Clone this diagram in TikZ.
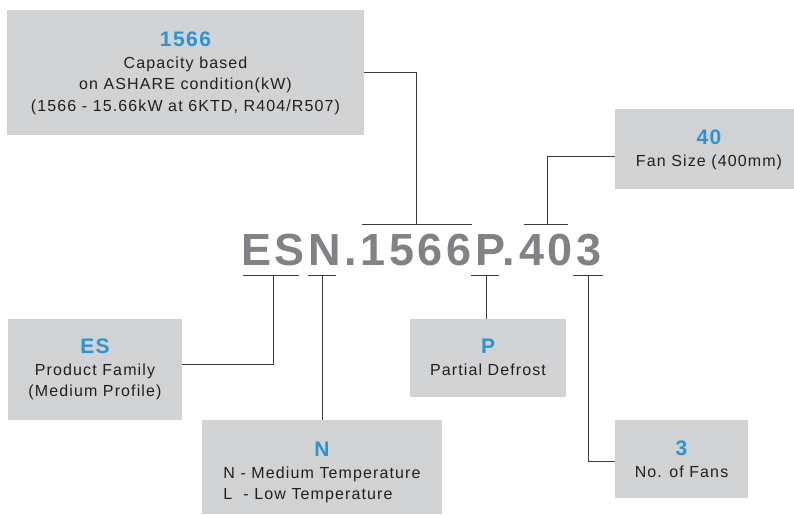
\documentclass[tikz,border=0pt]{standalone}
\usepackage{fontspec}
\setmainfont{Liberation Sans}
\newfontfamily\bodyfont[LetterSpace=7]{Liberation Sans}
\newfontfamily\codefont[LetterSpace=8]{Liberation Sans}
\definecolor{boxgray}{HTML}{D1D2D4}
\definecolor{tblue}{HTML}{2B94D1}
\definecolor{codegray}{HTML}{808285}
\definecolor{textdark}{HTML}{231F20}
\definecolor{linecol}{HTML}{3A3A3A}
\newcommand\ttl{\fontsize{21}{21.5}\selectfont\bfseries\color{tblue}}
\tikzset{
  infobox/.style={fill=boxgray, draw=none, inner sep=0pt, anchor=north west},
  txt/.style={inner sep=0pt, anchor=north, align=center, text=textdark,
    font=\bodyfont\fontsize{16}{21.5}\selectfont},
  conn/.style={draw=linecol, line width=1pt},
  codetext/.style={inner sep=0pt, anchor=base west, text=codegray,
    font=\codefont\fontsize{45}{45}\selectfont\bfseries}
}
\begin{document}
\begin{tikzpicture}[x=1pt,y=-1pt]
\path[use as bounding box] (0,0) rectangle (794,514);
% boxes
\node[infobox, minimum width=357pt, minimum height=125pt] (b1566) at (7,10) {};
\node[infobox, minimum width=179pt, minimum height=80pt] (b40) at (615,109) {};
\node[infobox, minimum width=174pt, minimum height=101pt] (bES) at (8,319) {};
\node[infobox, minimum width=240pt, minimum height=94pt] (bN) at (202,420) {};
\node[infobox, minimum width=156pt, minimum height=78pt] (bP) at (410,319) {};
\node[infobox, minimum width=133pt, minimum height=78pt] (b3) at (615,420) {};
% texts
\node[txt] (t1566) at (185.5,32) {{\ttl 1566}\\Capacity based\\on ASHARE condition(kW)\\(1566 - 15.66kW at 6KTD, R404/R507)};
\node[txt] (t40) at (709,130) {{\ttl 40}\\Fan Size (400mm)};
\node[txt] (tES) at (95,339) {{\ttl ES}\\Product Family\\(Medium Profile)};
\node[txt] (tP) at (488,339) {{\ttl P}\\Partial Defrost};
\node[txt] (t3) at (681.5,441) {{\ttl 3}\\No. of Fans};
\node[txt] (tN) at (322,442) {\ttl N};
\node[txt, align=left] (tN2) at (322,466.3) {N - Medium Temperature\\L\ \ - Low Temperature};
% code
\node[codetext] (code) at (241,265) {ESN.1566P.403};
% bracket coordinates
\coordinate (k1566L) at (362,224); \coordinate (k1566R) at (472,224); \coordinate (c1566) at (416,224);
\coordinate (k40L) at (524,224); \coordinate (k40R) at (568,224); \coordinate (c40) at (547,224);
\coordinate (kESL) at (243,275); \coordinate (kESR) at (299,275); \coordinate (cES) at (273,275);
\coordinate (kNL) at (308,275); \coordinate (kNR) at (336,275); \coordinate (cN) at (322,275);
\coordinate (kPL) at (471,275); \coordinate (kPR) at (499,275); \coordinate (cP) at (486,275);
\coordinate (k3L) at (573,275); \coordinate (k3R) at (603,275); \coordinate (c3) at (588,275);
% brackets
\draw[conn] (k1566L) -- (k1566R);
\draw[conn] (k40L) -- (k40R);
\draw[conn] (kESL) -- (kESR);
\draw[conn] (kNL) -- (kNR);
\draw[conn] (kPL) -- (kPR);
\draw[conn] (k3L) -- (k3R);
% connectors
\draw[conn] (b1566.east) -| (c1566);
\draw[conn] (c40) |- ([yshift=-7pt]b40.west);
\draw[conn] ([yshift=5.5pt]bES.east) -| (cES);
\draw[conn] (cN) -- (cN |- bN.north);
\draw[conn] (cP) -- (cP |- bP.north);
\draw[conn] (c3) |- ([yshift=-2pt]b3.west);
\end{tikzpicture}
\end{document}
